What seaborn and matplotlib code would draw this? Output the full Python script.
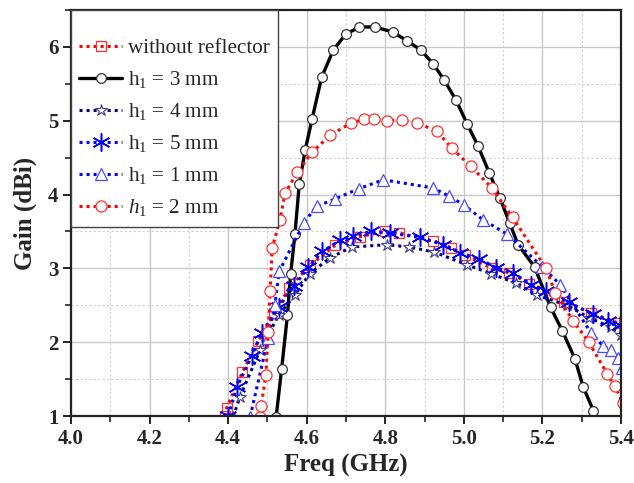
import numpy as np
import pandas as pd
import matplotlib
matplotlib.use("Agg")
import matplotlib.pyplot as plt
from matplotlib.ticker import MultipleLocator
import seaborn as sns

# ---------------- data ----------------
x_wo = [4.392, 4.396, 4.436, 4.477, 4.518, 4.556, 4.608, 4.672, 4.736, 4.799, 4.836, 4.921,
        4.968, 5.003, 5.072, 5.116, 5.167, 5.254, 5.323, 5.393, 5.42]
y_wo = [1.00, 1.11, 1.59, 2.02, 2.40, 2.74, 3.04, 3.31, 3.43, 3.50, 3.48, 3.37,
        3.28, 3.18, 3.00, 2.94, 2.79, 2.54, 2.40, 2.26, 2.22]

x_h3 = [4.522, 4.536, 4.551, 4.559, 4.570, 4.581, 4.596, 4.614, 4.638, 4.668, 4.699, 4.734,
        4.774, 4.820, 4.856, 4.890, 4.922, 4.950, 4.980, 5.009, 5.036, 5.065, 5.092, 5.117,
        5.138, 5.180, 5.221, 5.251, 5.283, 5.304, 5.330, 5.345]
y_h3 = [0.98, 1.63, 2.37, 2.92, 3.46, 4.14, 4.60, 5.03, 5.59, 5.96, 6.17, 6.27,
        6.27, 6.20, 6.08, 5.96, 5.77, 5.55, 5.28, 4.95, 4.66, 4.29, 3.95, 3.61,
        3.32, 3.02, 2.47, 2.15, 1.77, 1.39, 1.07, 0.90]

x_h4 = [4.413, 4.430, 4.481, 4.529, 4.570, 4.608, 4.659, 4.714, 4.804, 4.860, 4.925, 5.007,
        5.068, 5.133, 5.185, 5.263, 5.319, 5.375, 5.401]
y_h4 = [0.99, 1.26, 1.89, 2.37, 2.64, 2.93, 3.14, 3.29, 3.32, 3.29, 3.22, 3.05,
        2.93, 2.80, 2.64, 2.50, 2.33, 2.20, 2.10]

x_h5 = [4.400, 4.422, 4.460, 4.485, 4.529, 4.568, 4.604, 4.640, 4.685, 4.719, 4.763, 4.812,
        4.888, 4.948, 4.990, 5.039, 5.081, 5.124, 5.172, 5.208, 5.267, 5.328, 5.368, 5.397]
y_h5 = [1.00, 1.39, 1.81, 2.12, 2.48, 2.76, 3.02, 3.23, 3.38, 3.44, 3.50, 3.48,
        3.42, 3.32, 3.21, 3.13, 3.01, 2.94, 2.78, 2.70, 2.54, 2.38, 2.29, 2.23]

x_h1 = [4.456, 4.502, 4.519, 4.530, 4.593, 4.625, 4.672, 4.733, 4.795, 4.921, 4.962, 5.000,
        5.048, 5.111, 5.200, 5.245, 5.323, 5.354, 5.375, 5.393, 5.403]
y_h1 = [0.99, 2.06, 2.51, 2.96, 3.62, 3.84, 3.94, 4.08, 4.20, 4.09, 3.98, 3.86,
        3.66, 3.46, 3.02, 2.78, 2.13, 1.95, 1.89, 1.78, 1.65]

x_h2 = [4.480, 4.484, 4.496, 4.502, 4.507, 4.512, 4.532, 4.545, 4.576, 4.613, 4.659, 4.713,
        4.747, 4.771, 4.805, 4.843, 4.880, 4.931, 4.969, 5.018, 5.071, 5.124, 5.208, 5.233,
        5.278, 5.318, 5.365, 5.384, 5.405]
y_h2 = [0.98, 1.14, 1.55, 2.14, 2.70, 3.27, 3.66, 4.02, 4.30, 4.57, 4.80, 4.97,
        5.02, 5.02, 5.00, 5.01, 4.97, 4.86, 4.63, 4.38, 4.09, 3.69, 3.01, 2.67,
        2.29, 2.00, 1.57, 1.41, 1.17]

labels = ["without reflector", r"h$_1$ = 3 mm", r"h$_1$ = 4 mm", r"h$_1$ = 5 mm",
          r"h$_1$ = 1 mm", r"$\mathit{h}_{\mathit{1}}$ = 2 mm"]

xticks = [4.0, 4.2, 4.4, 4.6, 4.8, 5.0, 5.2, 5.4]
yticks = [1, 2, 3, 4, 5, 6]

# ---------------- style ----------------
sns.set_style("ticks")
plt.rcParams["font.family"] = ["Liberation Serif", "DejaVu Serif"]
plt.rcParams["mathtext.fontset"] = "custom"
plt.rcParams["mathtext.rm"] = "Liberation Serif"
plt.rcParams["mathtext.it"] = "Liberation Serif:italic"
plt.rcParams["mathtext.bf"] = "Liberation Serif:bold"

fig = plt.figure(figsize=(6.34, 4.83), dpi=100)
ax = fig.add_axes([71 / 634, 1 - 416 / 483, 550 / 634, 406 / 483])

dot = (0, (1, 1.3))
series = [
    (x_wo, y_wo, labels[0], dict(color="#ff0000", linestyle=dot, linewidth=2.2,
                                 marker="s", markersize=7, markerfacecolor="none",
                                 markeredgecolor="#ff3030", markeredgewidth=0.9)),
    (x_h3, y_h3, labels[1], dict(color="black", linestyle="-", linewidth=2.4,
                                 marker="o", markersize=7, markerfacecolor="white",
                                 markeredgecolor="#333333", markeredgewidth=0.9)),
    (x_h4, y_h4, labels[2], dict(color="#000080", linestyle=dot, linewidth=2.2,
                                 marker="*", markersize=9, markerfacecolor="white",
                                 markeredgecolor="#404090", markeredgewidth=0.8)),
    (x_h5, y_h5, labels[3], dict(color="#0000ff", linestyle=dot, linewidth=2.2,
                                 marker=(6, 2, 0), markersize=13, markerfacecolor="none",
                                 markeredgecolor="#0000ff", markeredgewidth=1.1)),
    (x_h1, y_h1, labels[4], dict(color="#0000ff", linestyle=dot, linewidth=2.2,
                                 marker="^", markersize=8, markerfacecolor="white",
                                 markeredgecolor="#4a4aff", markeredgewidth=0.9)),
    (x_h2, y_h2, labels[5], dict(color="#ff0000", linestyle=dot, linewidth=2.2,
                                 marker="o", markersize=8, markerfacecolor="white",
                                 markeredgecolor="#ff3030", markeredgewidth=0.9)),
]

for xs, ys, lab, kw in series:
    df = pd.DataFrame({"Freq": xs, "Gain": ys})
    sns.lineplot(data=df, x="Freq", y="Gain", ax=ax, label=lab, estimator=None,
                 sort=False, **kw)

ax.set_xlim(4.0, 5.4)
ax.set_ylim(1.0, 6.5)
ax.set_xticks(xticks)
ax.set_yticks(yticks)
ax.xaxis.set_minor_locator(MultipleLocator(0.1))
ax.yaxis.set_minor_locator(MultipleLocator(0.5))
ax.set_xticklabels([f"{v:.1f}" for v in xticks], fontsize=15, fontweight="bold")
ax.set_yticklabels([str(v) for v in yticks], fontsize=15, fontweight="bold")

ax.grid(which="major", color="#c8c8c8", linewidth=1.0, linestyle="-")
ax.grid(which="minor", color="#d0d0d0", linewidth=0.8, linestyle=(0, (2, 2)))
ax.set_axisbelow(True)

for s in ax.spines.values():
    s.set_color("#222222")
    s.set_linewidth(1.6)
ax.tick_params(which="major", direction="out", length=6, width=1.4, color="#222222",
               top=False, right=False, pad=3)
ax.tick_params(which="minor", direction="out", length=4, width=1.2, color="#222222",
               top=False, right=False)

ax.set_xlabel("Freq (GHz)", fontsize=18, fontweight="bold", labelpad=4)
ax.set_ylabel("Gain (dBi)", fontsize=18, fontweight="bold", labelpad=8)

leg = ax.legend(loc="upper left", bbox_to_anchor=(0.0, 1.0), borderaxespad=0.0,
                fontsize=15.2, title=" ", title_fontsize=7, frameon=True, fancybox=False,
                edgecolor="#444444", framealpha=1.0, handlelength=2.0, handletextpad=0.3,
                labelspacing=0.52, borderpad=0.4)
leg.get_frame().set_linewidth(1.0)

fig.savefig("out.png", dpi=100)
